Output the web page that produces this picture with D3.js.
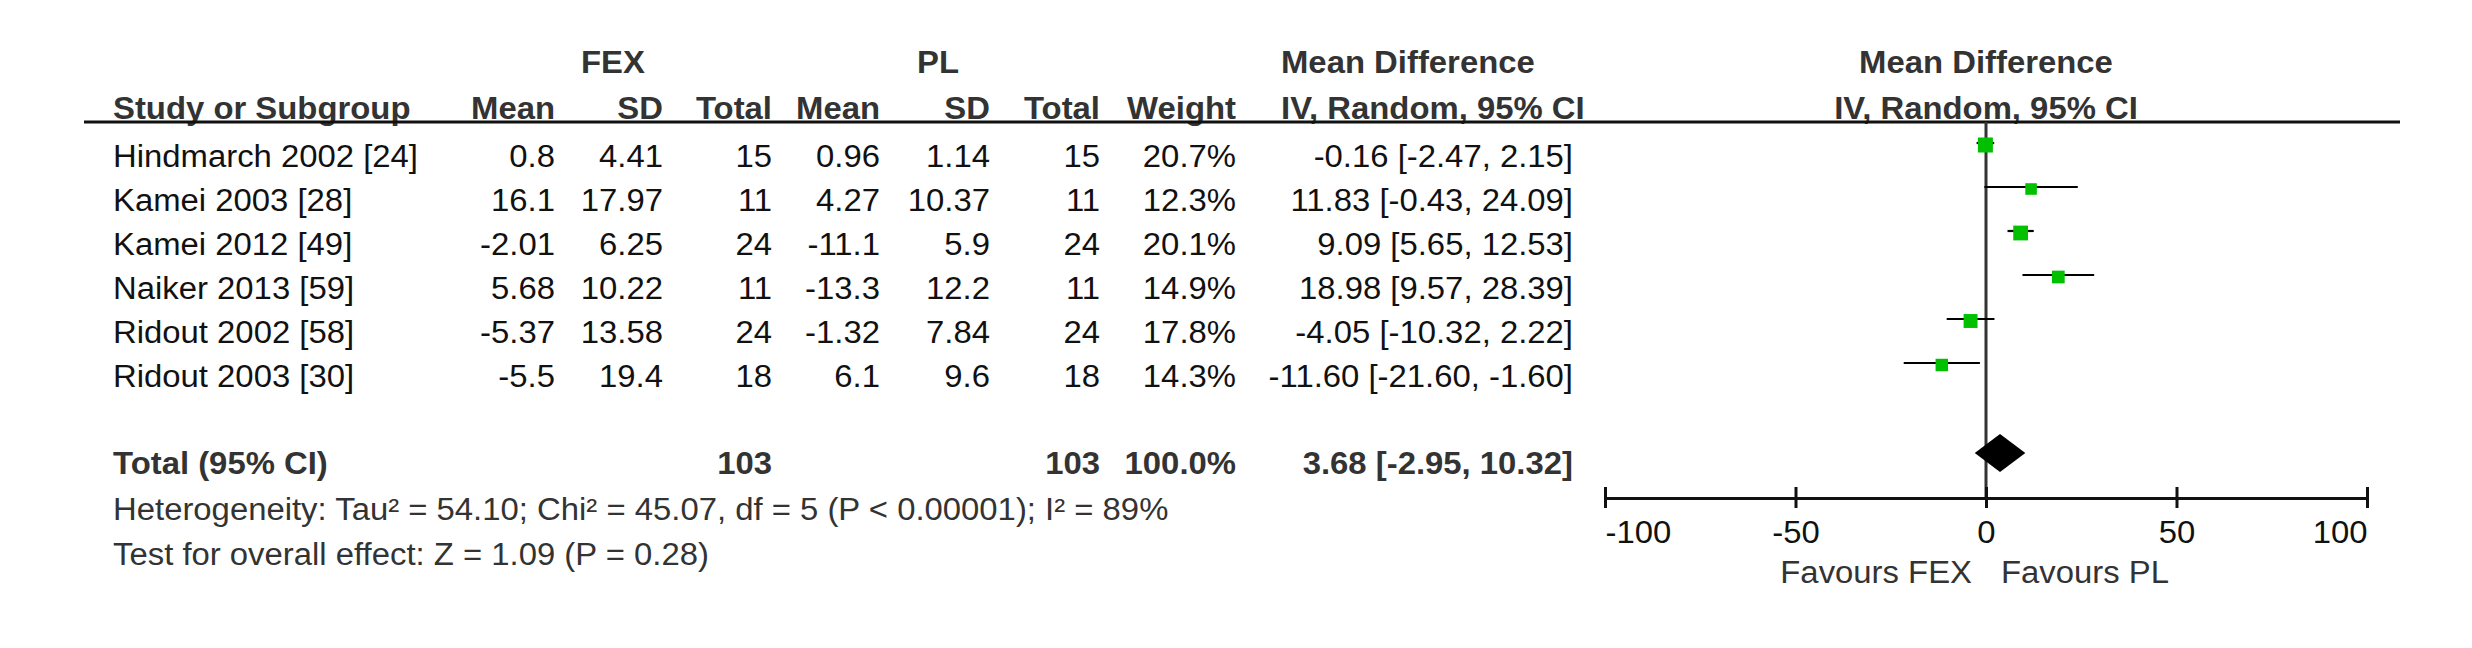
<!DOCTYPE html>
<html>
<head>
<meta charset="utf-8">
<script src="https://cdn.jsdelivr.net/npm/d3@7"></script>
<style>
  body { margin: 0; background: #fff; }
  text { font-family: "Liberation Sans", Arial, Helvetica, sans-serif; }
</style>
</head>
<body>
<script>
// study data
var studies = ["Hindmarch 2002 [24]", "Kamei 2003 [28]", "Kamei 2012 [49]", "Naiker 2013 [59]", "Ridout 2002 [58]", "Ridout 2003 [30]"];
var fexMean = [0.8, 16.1, -2.01, 5.68, -5.37, -5.5];
var fexSD   = [4.41, 17.97, 6.25, 10.22, 13.58, 19.4];
var fexN    = [15, 11, 24, 11, 24, 18];
var plMean  = [0.96, 4.27, -11.1, -13.3, -1.32, 6.1];
var plSD    = [1.14, 10.37, 5.9, 12.2, 7.84, 9.6];
var plN     = [15, 11, 24, 11, 24, 18];
var weight  = [20.7, 12.3, 20.1, 14.9, 17.8, 14.3];
var md      = [-0.16, 11.83, 9.09, 18.98, -4.05, -11.60];
var ciLo    = [-2.47, -0.43, 5.65, 9.57, -10.32, -21.60];
var ciHi    = [2.15, 24.09, 12.53, 28.39, 2.22, -1.60];

var total = { fexN: 103, plN: 103, weight: 100.0, md: 3.68, lo: -2.95, hi: 10.32 };
var heterogeneity = "Heterogeneity: Tau\u00b2 = 54.10; Chi\u00b2 = 45.07, df = 5 (P < 0.00001); I\u00b2 = 89%";
var overall = "Test for overall effect: Z = 1.09 (P = 0.28)";
var ticks = [-100, -50, 0, 50, 100];
var favours = ["Favours FEX", "Favours PL"];

var W = 2472, H = 648;
var FS = 31, SX = 1.06;      // text is a little wider than plain Arial in the picture

var svg = d3.select("body").append("svg")
    .attr("width", W)
    .attr("height", H);

// helper for one piece of text
function txt(x, y, s, anchor, bold, fill) {
  return svg.append("text")
      .attr("transform", "translate(" + x + "," + y + ") scale(" + SX + ",1)")
      .attr("text-anchor", anchor || "start")
      .attr("font-size", FS)
      .attr("font-weight", bold ? "bold" : "normal")
      .attr("fill", fill || "#111")
      .text(s);
}

var x = d3.scaleLinear().domain([-100, 100]).range([1605, 2367]);
var yRow = d3.scaleLinear().domain([0, studies.length - 1]).range([167, 387]);   // text baselines
var size = d3.scaleSqrt().domain([0, 20.7]).range([0, 15]);

// column right edges
var col = { study: 113, fexMean: 555, fexSD: 663, fexN: 772, plMean: 880, plSD: 990, plN: 1100, weight: 1236, md: 1573 };
var hdr = "#333";

// headers
txt(613, 73, "FEX", "middle", true, hdr);
txt(938, 73, "PL", "middle", true, hdr);
txt(1281, 73, "Mean Difference", "start", true, hdr);
txt(x(0), 73, "Mean Difference", "middle", true, hdr);

txt(col.study, 119, "Study or Subgroup", "start", true, hdr);
txt(col.fexMean, 119, "Mean", "end", true, hdr);
txt(col.fexSD, 119, "SD", "end", true, hdr);
txt(col.fexN, 119, "Total", "end", true, hdr);
txt(col.plMean, 119, "Mean", "end", true, hdr);
txt(col.plSD, 119, "SD", "end", true, hdr);
txt(col.plN, 119, "Total", "end", true, hdr);
txt(col.weight, 119, "Weight", "end", true, hdr);
txt(1281, 119, "IV, Random, 95% CI", "start", true, hdr);
txt(x(0), 119, "IV, Random, 95% CI", "middle", true, hdr);

svg.append("line")
    .attr("x1", 84).attr("x2", 2400)
    .attr("y1", 122).attr("y2", 122)
    .attr("stroke", "#111").attr("stroke-width", 3);

// study rows
studies.forEach(function(s, i) {
  var y = yRow(i);
  txt(col.study, y, s, "start");
  txt(col.fexMean, y, String(fexMean[i]), "end");
  txt(col.fexSD, y, String(fexSD[i]), "end");
  txt(col.fexN, y, String(fexN[i]), "end");
  txt(col.plMean, y, String(plMean[i]), "end");
  txt(col.plSD, y, String(plSD[i]), "end");
  txt(col.plN, y, String(plN[i]), "end");
  txt(col.weight, y, weight[i].toFixed(1) + "%", "end");
  txt(col.md, y, md[i].toFixed(2) + " [" + ciLo[i].toFixed(2) + ", " + ciHi[i].toFixed(2) + "]", "end");
});

// total row
var yTot = 474;
txt(col.study, yTot, "Total (95% CI)", "start", true, hdr);
txt(col.fexN, yTot, String(total.fexN), "end", true, hdr);
txt(col.plN, yTot, String(total.plN), "end", true, hdr);
txt(col.weight, yTot, total.weight.toFixed(1) + "%", "end", true, hdr);
txt(col.md, yTot, total.md.toFixed(2) + " [" + total.lo.toFixed(2) + ", " + total.hi.toFixed(2) + "]", "end", true, hdr);

txt(col.study, 520, heterogeneity, "start", false, "#333");
txt(col.study, 565, overall, "start", false, "#333");

// zero line
var axisY = 498;
svg.append("line")
    .attr("x1", x(0)).attr("x2", x(0))
    .attr("y1", 122).attr("y2", axisY)
    .attr("stroke", "#333").attr("stroke-width", 3);

// confidence intervals
svg.selectAll("line.ci")
    .data(studies)
  .enter().append("line")
    .attr("class", "ci")
    .attr("x1", function(d, i) { return x(ciLo[i]); })
    .attr("x2", function(d, i) { return x(ciHi[i]); })
    .attr("y1", function(d, i) { return yRow(i) - 24; })
    .attr("y2", function(d, i) { return yRow(i) - 24; })
    .attr("stroke", "#000").attr("stroke-width", 2.2);

// weight squares
svg.selectAll("rect.pt")
    .data(studies)
  .enter().append("rect")
    .attr("class", "pt")
    .attr("x", function(d, i) { return x(md[i]) - size(weight[i]) / 2; })
    .attr("y", function(d, i) { return yRow(i) - 22 - size(weight[i]) / 2; })
    .attr("width", function(d, i) { return size(weight[i]); })
    .attr("height", function(d, i) { return size(weight[i]); })
    .attr("fill", "#00c000");

// pooled diamond
var dy = yTot - 21, dh = 19;
svg.append("path")
    .attr("d", "M" + x(total.lo) + "," + dy + "L" + x(total.md) + "," + (dy - dh) +
               "L" + x(total.hi) + "," + dy + "L" + x(total.md) + "," + (dy + dh) + "Z")
    .attr("fill", "#000");

// axis (plain hyphen for negatives, as in the figure)
var axis = d3.axisBottom(x).tickValues(ticks).tickSizeInner(10).tickSizeOuter(0)
    .tickFormat(function(d) { return String(d); });
var g = svg.append("g").attr("transform", "translate(0," + axisY + ")").call(axis);
g.select(".domain").attr("stroke", "#111").attr("stroke-width", 3);
g.selectAll(".tick line").attr("y1", -11).attr("y2", 10).attr("stroke", "#111").attr("stroke-width", 3);
g.selectAll(".tick text")
    .attr("y", 45).attr("dy", 0)
    .attr("font-size", FS)
    .attr("font-family", "Liberation Sans, Arial, sans-serif")
    .attr("fill", "#111")
    .attr("text-anchor", function(d, i) { return i === 0 ? "start" : (i === ticks.length - 1 ? "end" : "middle"); })
    .attr("transform", "scale(" + SX + ",1)")
    .attr("x", 0);

txt(x(0) - 14, 583, favours[0], "end", false, "#333");
txt(x(0) + 15, 583, favours[1], "start", false, "#333");
</script>
</body>
</html>
